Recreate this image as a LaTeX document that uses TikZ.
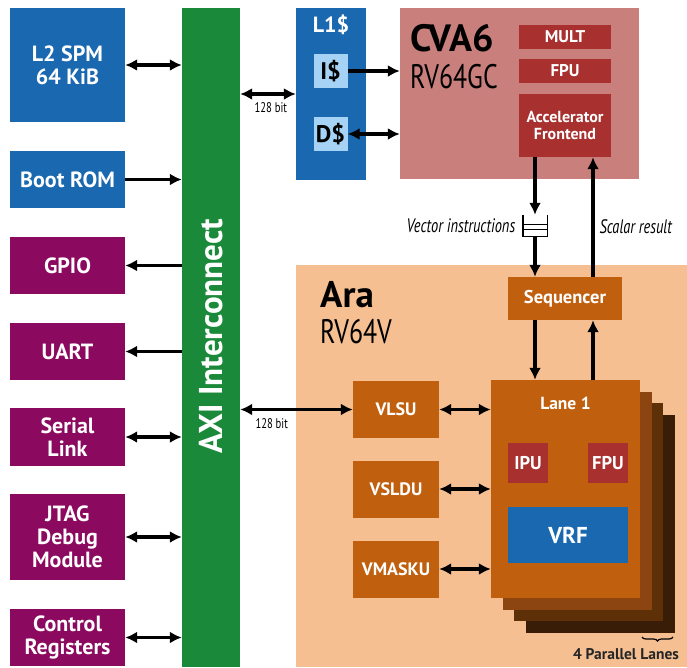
\documentclass[tikz,border=0pt]{standalone}
\usepackage{fontspec}
\setmainfont{PT Sans}
\newfontfamily\condfont[FakeStretch=0.76]{PT Sans}
\newfontfamily\narrowfont[FakeStretch=0.74]{PT Sans}
\usetikzlibrary{arrows.meta,decorations.pathreplacing}
\definecolor{sblue}{RGB}{25,104,176}
\definecolor{lblue}{RGB}{166,211,245}
\definecolor{sviolet}{RGB}{139,10,95}
\definecolor{sgreen}{RGB}{27,137,58}
\definecolor{cvapink}{RGB}{201,128,125}
\definecolor{dred}{RGB}{168,48,46}
\definecolor{arapeach}{RGB}{245,191,146}
\definecolor{uorange}{RGB}{192,96,15}
\definecolor{lanetwo}{RGB}{140,69,16}
\definecolor{lanethree}{RGB}{94,48,8}
\definecolor{lanefour}{RGB}{58,29,6}

\begin{document}
\begin{tikzpicture}[x=1pt,y=-1pt,>={Latex[length=12pt,width=12pt]},
        blk/.style={rectangle,inner sep=0pt,text=white,align=center,
          font=\bfseries\fontsize{22}{23}\selectfont},
        mem/.style={blk,fill=sblue,minimum width=115pt},
        per/.style={blk,fill=sviolet,minimum width=115pt},
        sub/.style={blk,fill=dred,font=\bfseries\fontsize{17}{17}\selectfont},
        unit/.style={blk,fill=uorange,minimum width=86pt,minimum height=57pt,
          font=\bfseries\fontsize{18}{18}\selectfont},
        lane/.style={rectangle,inner sep=0pt,minimum width=149pt,minimum height=218pt},
        cache/.style={blk,fill=lblue,text=black,minimum size=34pt,
          font=\bfseries\fontsize{24}{24}\selectfont},
        conn/.style={line width=3.2pt},
        note/.style={font=\narrowfont\itshape\fontsize{19.5}{19.5}\selectfont},
        bits/.style={text=black,font=\condfont\fontsize{14}{14}\selectfont}]
\useasboundingbox (0,0) rectangle (687,667);

% memories and peripherals
\node[mem,minimum height=114pt](l2) at (67.5,65){L2 SPM\\64 KiB};
\node[mem,minimum height=57pt](boot) at (67.5,179.5){Boot ROM};
\node[per,minimum height=57pt](gpio) at (67.5,265.5){GPIO};
\node[per,minimum height=57pt](uart) at (67.5,351.5){UART};
\node[per,minimum height=58pt](serial) at (67.5,437){Serial\\Link};
\node[per,minimum height=86pt](jtag) at (67.5,537){JTAG\\Debug\\Module};
\node[per,minimum height=57pt](ctrl) at (67.5,637.5){Control\\Registers};

\node[blk,fill=sgreen,minimum width=58pt,minimum height=659pt](axi) at (211,337.5){};
\node[blk,rotate=90,font=\bfseries\fontsize{33}{33}\selectfont](axilbl) at (211,336){AXI Interconnect};

\draw[conn,<->](l2.east) -- (l2.east -| axi.west);
\draw[conn,->](boot.east) -- (boot.east -| axi.west);
\draw[conn,<-](gpio.east) -- (gpio.east -| axi.west);
\draw[conn,<-](uart.east) -- (uart.east -| axi.west);
\foreach \n in {serial,jtag,ctrl}
  {\draw[conn,<->](\n.east) -- (\n.east -| axi.west);}

% cache and CVA6
\node[blk,fill=sblue,minimum width=70pt,minimum height=172pt](l1) at (331,94){};
\node[blk,font=\bfseries\fontsize{22}{22}\selectfont](l1lbl) at (331,25){L1\$};
\node[cache](icache) at (330.5,71){I\$};
\node[cache](dcache) at (330.5,134){D\$};

\node[rectangle,fill=cvapink,minimum width=239pt,minimum height=171pt](cva) at (519.5,93.5){};
\node[anchor=base west,inner sep=0pt,font=\bfseries\fontsize{38}{38}\selectfont](cvaname) at (410,51){CVA6};
\node[anchor=base west,inner sep=0pt,font=\condfont\fontsize{34}{34}\selectfont](cvaisa) at (410,88){RV64GC};
\node[sub,minimum width=92pt,minimum height=24pt](mult) at (565,37){MULT};
\node[sub,minimum width=92pt,minimum height=24pt](cfpu) at (565,71){FPU};
\node[sub,minimum width=92pt,minimum height=63pt,font=\bfseries\fontsize{16}{17}\selectfont](acc) at (565,125.5){Accelerator\\Frontend};

\draw[conn,<->](axi.east |- l1.west) -- (l1.west) node[bits,pos=0.55,below=4pt]{128 bit};
\draw[conn,->](icache.east) -- (icache.east -| cva.west);
\draw[conn,<->](dcache.east) -- (dcache.east -| cva.west);

% Ara
\node[rectangle,fill=arapeach,minimum width=391pt,minimum height=402pt](ara) at (491.5,466){};
\node[anchor=base west,inner sep=0pt,font=\bfseries\fontsize{37}{37}\selectfont](araname) at (320,307){Ara};
\node[anchor=base west,inner sep=0pt,font=\condfont\fontsize{34}{34}\selectfont](araisa) at (320,343){RV64V};

\node[unit,minimum width=114pt,minimum height=43pt,font=\bfseries\fontsize{18.5}{18.5}\selectfont](seq) at (565,298.5){Sequencer};
\node[rectangle,minimum width=24pt,minimum height=21pt](fifo) at (535,225.5){};
\coordinate(sres) at (593,250);

\foreach \k/\c in {4/lanefour,3/lanethree,2/lanetwo}
  {\node[lane,fill=\c](lane\k) at ({565.5+11.5*(\k-1)},{489+11.5*(\k-1)}){};}
\node[lane,fill=uorange](lane1) at (565.5,489){};
\node[blk,font=\bfseries\fontsize{17.5}{17.5}\selectfont](lanelbl) at (565.5,403){Lane 1};
\node[sub,minimum size=40pt,font=\bfseries\fontsize{18.5}{18.5}\selectfont](ipu) at (528,463){IPU};
\node[sub,minimum size=40pt,font=\bfseries\fontsize{18.5}{18.5}\selectfont](lfpu) at (608,463){FPU};
\node[blk,fill=sblue,minimum width=120pt,minimum height=56pt,font=\bfseries\fontsize{23}{23}\selectfont](vrf) at (568,535){VRF};

\node[unit](vlsu) at (396,409.5){VLSU};
\node[unit](vsldu) at (396,489){VSLDU};
\node[unit](vmasku) at (396,569){VMASKU};

\draw[conn,<->](axi.east |- vlsu.west) -- (vlsu.west) node[bits,pos=0.28,below=4pt]{128 bit};
\foreach \u in {vlsu,vsldu,vmasku}
  {\draw[conn,<->](\u.east) -- (\u.east -| lane1.west);}

% instruction queue and result path
\draw[conn,->](acc.south -| fifo.north) -- (fifo.north);
\draw[line width=1.4pt](fifo.north west) -- (fifo.south west) -- (fifo.south east) -- (fifo.north east);
\draw[line width=1.2pt]([yshift=-10pt]fifo.north west) -- ([yshift=-10pt]fifo.north east)
  ([yshift=-15pt]fifo.north west) -- ([yshift=-15pt]fifo.north east);
\draw[conn,->](fifo.south) -- (fifo.south |- seq.north);
\draw[conn,->](seq.north -| sres) -- (acc.south -| sres);
\node[note,anchor=east](vilbl) at ([xshift=-4pt]fifo.west){Vector instructions};
\node[note,anchor=west](srlbl) at (596,227){Scalar result};

\draw[conn,->](seq.south -| fifo.south) -- (lane1.north -| fifo.south);
\draw[conn,->](lane1.north -| sres) -- (seq.south -| sres);

\draw[decorate,decoration={brace,mirror,amplitude=4pt},line width=1.2pt]
  (642,637) -- (673,637);
\node[font=\bfseries\fontsize{15.5}{15.5}\selectfont,text=black!85](lanes) at (626,654){4 Parallel Lanes};
\end{tikzpicture}
\end{document}
